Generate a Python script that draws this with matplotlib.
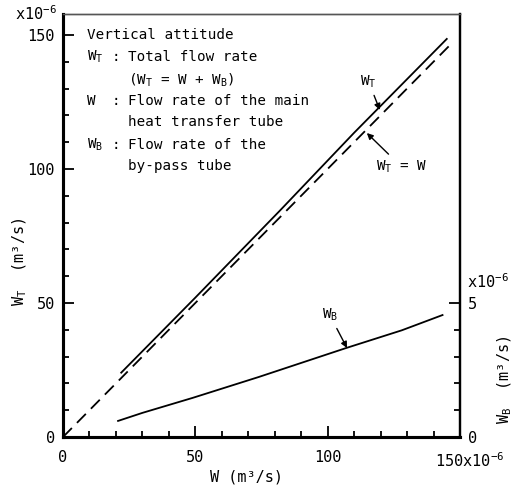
import matplotlib
matplotlib.use("Agg")
import matplotlib.pyplot as plt
from matplotlib.ticker import MultipleLocator, FixedLocator

plt.rcParams['font.family'] = ['DejaVu Sans Mono', 'DejaVu Sans']
plt.rcParams['mathtext.fontset'] = 'custom'
plt.rcParams['mathtext.rm'] = 'DejaVu Sans Mono'
plt.rcParams['mathtext.it'] = 'DejaVu Sans Mono'
plt.rcParams['mathtext.bf'] = 'DejaVu Sans Mono'
plt.rcParams['mathtext.sf'] = 'DejaVu Sans Mono'

# Data (units of 1e-6 m^3/s)
w_total = [22, 50, 82, 110, 145]
wt_total = [24, 52, 84.5, 113.5, 148.5]
w_ref = [0, 146]
wt_ref = [0, 146]
w_bypass = [20.8, 30, 49, 74, 107, 128, 143.4]
wb_bypass = [0.6, 0.9, 1.46, 2.24, 3.32, 3.98, 4.55]

W, H = 518, 487
fig = plt.figure(figsize=(W / 100, H / 100), dpi=100)
L, R, T, B = 63, 460, 14, 437
ax = fig.add_axes([L / W, 1 - B / H, (R - L) / W, (B - T) / H])
ymax = 157.8
ax.set_xlim(0, 150)
ax.set_ylim(0, ymax)

ax.plot(w_total, wt_total, color='black', lw=1.3)
ax.plot(w_ref, wt_ref, color='black', lw=1.3, dashes=(7, 4))

ax2 = ax.twinx()
ax2.set_ylim(0, ymax / 10)
ax2.plot(w_bypass, wb_bypass, color='black', lw=1.3)

fs = 11
ax.xaxis.set_major_locator(FixedLocator([0, 50, 100, 150]))
ax.xaxis.set_minor_locator(MultipleLocator(10))
ax.yaxis.set_major_locator(FixedLocator([0, 50, 100, 150]))
ax.yaxis.set_minor_locator(MultipleLocator(10))
ax.set_xticklabels(['0', '50', '100', ''])
ax.set_yticklabels(['0', '50', '100', '150'])
ax.tick_params(which='both', direction='in', top=False, right=False, labelsize=fs, width=1.3)
ax.tick_params(which='major', length=8, pad=6)
ax.tick_params(which='minor', length=4)
ax.tick_params(axis='x', pad=9)

ax2.yaxis.set_major_locator(FixedLocator([0, 5]))
ax2.yaxis.set_minor_locator(FixedLocator([1, 2, 3, 4]))
ax2.set_yticklabels(['0', '5'])
ax2.tick_params(which='both', direction='in', labelsize=fs, width=1.3)
ax2.tick_params(which='major', length=8, pad=6)
ax2.tick_params(which='minor', length=4)

for a in (ax, ax2):
    a.spines['left'].set_linewidth(2.2)
    a.spines['bottom'].set_linewidth(2.2)
    a.spines['right'].set_linewidth(1.6)
    a.spines['top'].set_linewidth(1.0)
    a.spines['top'].set_color('#555555')

# Axis labels and scale multipliers
sup = r'x10$^{-6}$'
fig.text(57 / W, 1 - 14 / H, sup, ha='right', va='center', fontsize=fs)
fig.text(435 / W, 1 - 461 / H, '150' + sup, ha='left', va='center', fontsize=fs)
fig.text(467 / W, 1 - 282 / H, sup, ha='left', va='center', fontsize=fs)
fig.text(247 / W, 1 - 477 / H, 'W (m³/s)', ha='center', va='center', fontsize=fs)
fig.text(20 / W, 1 - 262 / H, r'W$_\mathrm{T}$  (m³/s)', ha='center', va='center',
         rotation=90, fontsize=fs)
fig.text(505 / W, 1 - 380 / H, r'W$_\mathrm{B}$  (m³/s)', ha='center', va='center',
         rotation=90, fontsize=fs)

# Legend-like description
tfs = 10.3
def px(x, y):
    return x / W, 1 - y / H

fig.text(*px(87, 35), 'Vertical attitude', ha='left', va='center', fontsize=tfs)
rows = [
    (57, r'W$_\mathrm{T}$', ':', 'Total flow rate'),
    (80, '', '', r'(W$_\mathrm{T}$ = W + W$_\mathrm{B}$)'),
    (101, 'W', ':', 'Flow rate of the main'),
    (122, '', '', 'heat transfer tube'),
    (145, r'W$_\mathrm{B}$', ':', 'Flow rate of the'),
    (166, '', '', 'by-pass tube'),
]
for y, sym, colon, txt in rows:
    if sym:
        fig.text(*px(87, y), sym, ha='left', va='center', fontsize=tfs)
    if colon:
        fig.text(*px(112, y), colon, ha='left', va='center', fontsize=tfs)
    fig.text(*px(128, y), txt, ha='left', va='center', fontsize=tfs)

# Annotations
arrow = dict(arrowstyle='-|>', color='black', lw=1.0, mutation_scale=9,
             shrinkA=2, shrinkB=0)
ax.annotate(r'W$_\mathrm{T}$', xy=(119.7, 122), xytext=(115.5, 132.5),
            ha='center', va='center', fontsize=tfs, arrowprops=arrow)
ax.annotate(r'W$_\mathrm{T}$ = W', xy=(114.8, 113.4), xytext=(128, 100.7),
            ha='center', va='center', fontsize=tfs, arrowprops=arrow)
ax.annotate(r'W$_\mathrm{B}$', xy=(107.3, 33.2), xytext=(100.8, 45.5),
            ha='center', va='center', fontsize=tfs, arrowprops=arrow)

fig.savefig('out.png', dpi=100)
